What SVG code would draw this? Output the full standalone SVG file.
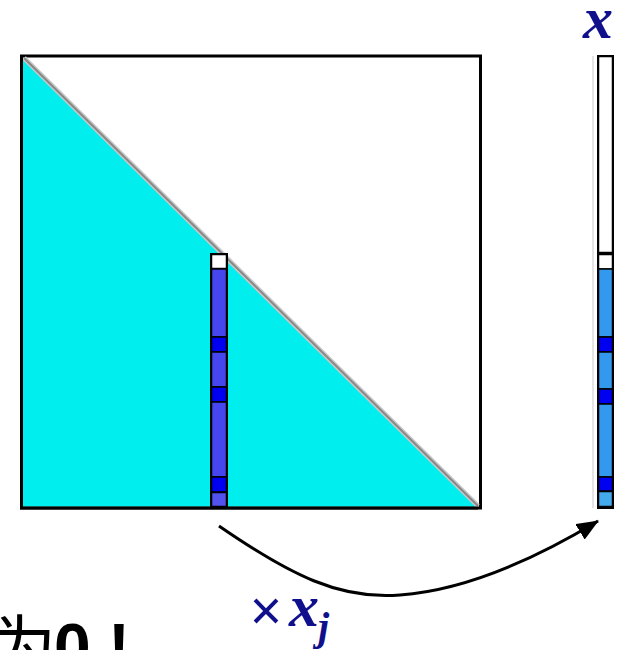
<svg xmlns="http://www.w3.org/2000/svg" width="619" height="650" viewBox="0 0 619 650">
<defs>
<style>
.cell{stroke:#000;stroke-width:1.5}
.blue{fill:#4646ee}
.dark{fill:#0000f0}
.lb{fill:#3399ee}
.math{font-family:"Liberation Serif",serif;font-weight:bold;font-style:italic;fill:#10108c}
</style>
<marker id="ah2" viewBox="0 0 22 18" refX="21" refY="9" markerWidth="22" markerHeight="18" markerUnits="userSpaceOnUse" orient="auto">
<path d="M0,0 L22,9 L0,18 z" fill="#000"/>
</marker>
</defs>
<rect width="619" height="650" fill="#fff"/>
<g id="matrix">
<rect x="21.5" y="56" width="459" height="452" fill="#fff" stroke="#000" stroke-width="3"/>
<polygon points="23,59 23,506.5 477,506.5" fill="#00eeee"/>
<line x1="24" y1="58" x2="478" y2="506" stroke="#c8c8c8" stroke-width="5"/>
<line x1="24" y1="58" x2="478" y2="506" stroke="#888" stroke-width="2"/>
<line x1="20" y1="508" x2="478" y2="508" stroke="#000" stroke-width="3"/>
<line x1="21.5" y1="55" x2="21.5" y2="509" stroke="#000" stroke-width="3"/>
</g>
<g id="column">
<rect x="210" y="253" width="18" height="255" fill="#000"/>
<rect class="cell" x="211.5" y="254.5" width="15" height="14" fill="#fff"/>
<rect class="cell blue" x="211.5" y="269" width="15" height="68"/>
<rect class="cell dark" x="211.5" y="337" width="15" height="15"/>
<rect class="cell blue" x="211.5" y="352" width="15" height="35"/>
<rect class="cell dark" x="211.5" y="387" width="15" height="15"/>
<rect class="cell blue" x="211.5" y="402" width="15" height="75"/>
<rect class="cell dark" x="211.5" y="477" width="15" height="15"/>
<rect class="cell" x="211.5" y="492.5" width="15" height="14" fill="#5252ee"/>
</g>
<g id="vector">
<line x1="593" y1="56" x2="593" y2="508" stroke="#e4e4e4" stroke-width="2"/>
<rect x="597" y="55" width="17" height="454" fill="#000"/>
<rect class="cell" x="598.5" y="56.5" width="14" height="196" fill="#fff"/>
<rect class="cell" x="598.5" y="254.5" width="14" height="14.5" fill="#fff"/>
<rect class="cell lb" x="598.5" y="269" width="14" height="68"/>
<rect class="cell dark" x="598.5" y="337" width="14" height="15"/>
<rect class="cell lb" x="598.5" y="352" width="14" height="37"/>
<rect class="cell dark" x="598.5" y="389" width="14" height="15"/>
<rect class="cell lb" x="598.5" y="404" width="14" height="73"/>
<rect class="cell dark" x="598.5" y="477" width="14" height="14"/>
<rect class="cell" x="598.5" y="491.5" width="14" height="15" fill="#44aaee"/>
</g>
<g id="connectors">
<path d="M219,526 C290,575 340,600 400,595 C470,590 540,556 598,521" fill="none" stroke="#000" stroke-width="3" marker-end="url(#ah2)"/>
</g>
<g id="labels">
<text class="math" x="583" y="38" font-size="60">x</text>
<text x="250" y="631" font-family="Noto Sans,sans-serif" font-size="56" fill="#10108c">×</text>
<text class="math" x="289" y="626" font-size="60">x</text>
<text class="math" x="318" y="640" font-size="40">j</text>
<text y="670" font-size="66" font-family="Noto Sans CJK SC,sans-serif" fill="#000"><tspan x="-10">为</tspan><tspan x="54" font-weight="bold" font-family="Liberation Sans,sans-serif">0</tspan><tspan x="108" font-weight="bold" font-family="Liberation Sans,sans-serif">!</tspan></text>
</g>
</svg>
